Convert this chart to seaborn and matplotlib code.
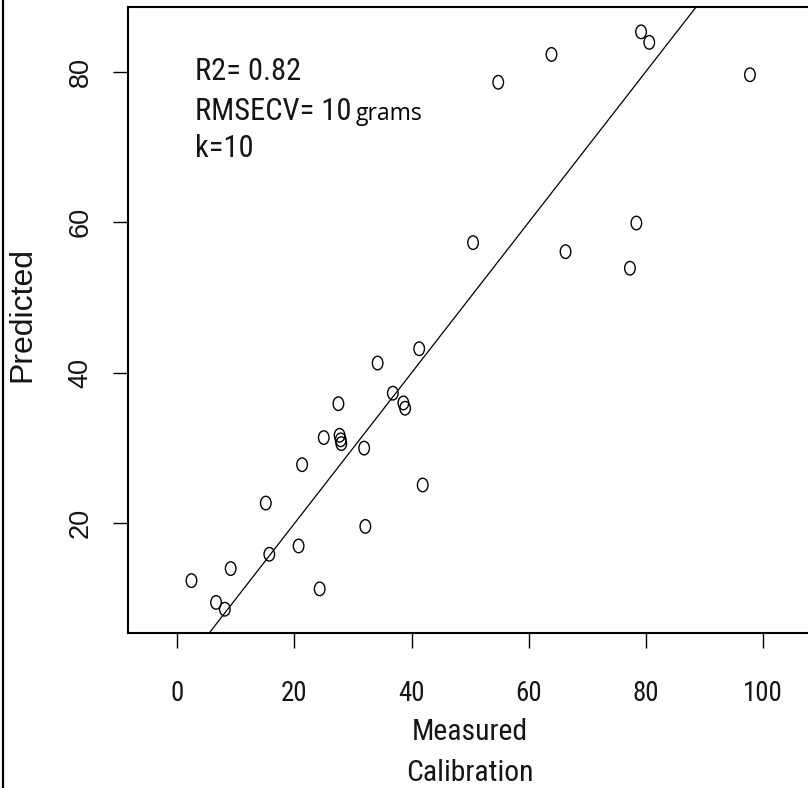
import matplotlib
matplotlib.use("Agg")
import matplotlib.pyplot as plt
from matplotlib import font_manager
from matplotlib.path import Path
from matplotlib.transforms import Affine2D
from matplotlib.lines import Line2D
import seaborn as sns
import pandas as pd

# ---- data ----
measured = [2.4, 6.6, 8.1, 9.1, 15.1, 15.7, 20.7, 21.3, 24.3, 25.0,
            27.5, 27.7, 27.9, 28.0, 31.9, 32.1, 34.2, 36.8, 38.6, 38.9,
            41.3, 41.9, 50.5, 54.8, 63.9, 66.3, 77.3, 78.4, 79.2, 80.6, 97.8]
predicted = [12.4, 9.5, 8.6, 14.0, 22.7, 15.9, 17.0, 27.8, 11.3, 31.4,
             35.9, 31.7, 31.1, 30.6, 30.0, 19.6, 41.3, 37.3, 36.0, 35.3,
             43.2, 25.1, 57.3, 78.6, 82.3, 56.1, 53.9, 59.9, 85.3, 83.9, 79.6]
x_ticks = [0, 20, 40, 60, 80, 100]
y_ticks = [20, 40, 60, 80]
stats_lines = ["R2= 0.82", "RMSECV= 10", "k=10"]
unit_text = "grams"

df = pd.DataFrame({"Measured": measured, "Predicted": predicted})

sns.set_theme(style="white")
plt.rcParams["font.family"] = ["Roboto", "DejaVu Sans"]
TXT = "#151515"


# pick a narrow sans face if one is installed (the reference uses a narrow Arial look)
def narrow_font():
    fl = font_manager.fontManager.ttflist
    names = {f.name for f in fl}
    if "Liberation Sans Narrow" in names:
        return {"family": "Liberation Sans Narrow"}
    if "Roboto Condensed" in names:
        return {"family": "Roboto Condensed"}
    for fam in ["Noto Sans", "Open Sans", "Roboto"]:
        for f in fl:
            st = f.stretch
            if f.name == fam and st in ("condensed", "semi-condensed") and \
                    f.weight in (400, "normal", "regular") and f.style == "normal":
                return {"family": fam, "stretch": st}
    return {"family": "Roboto"}


NF = narrow_font()

W, H = 808, 788
fig = plt.figure(figsize=(W / 100, H / 100), dpi=100)
ax = fig.add_axes([128 / W, 1 - 633.3 / H, (812 - 128) / W, (633.3 - 7.3) / H])
renderer = fig.canvas.get_renderer()


def fit_size(text, width_px, base=20.0):
    t = fig.text(0, 0, text, fontsize=base, **NF)
    w = t.get_window_extent(renderer).width
    t.remove()
    return base * width_px / w


ann_size = min(fit_size("RMSECV= 10", 158), 22)
tick_size = min(fit_size("100", 40), 21)
lab_size = min(fit_size("Measured", 116), 22)

# slightly squeezed open circle, as in the reference
ell = Path.unit_circle().transformed(Affine2D().scale(0.78, 1.0))

sns.scatterplot(data=df, x="Measured", y="Predicted", ax=ax, marker=ell,
                s=95, facecolor="none", edgecolor="black", linewidth=1.0,
                legend=False)
ax.axline((0, 0), slope=1, color="black", lw=0.9)

ax.set_xlim(-8.44, 108.4)
ax.set_ylim(5.4, 88.56)
ax.set_xticks(x_ticks)
ax.set_yticks(y_ticks)
ax.set_xticklabels([str(v) for v in x_ticks], fontsize=tick_size, **NF)
ax.set_yticklabels([str(v) for v in y_ticks], rotation=90, va="center",
                   fontsize=19.5, family="Liberation Sans")
ax.tick_params(axis="both", direction="out", length=10.8, width=1.0,
               color="black", labelcolor=TXT)
ax.tick_params(axis="x", pad=23)
ax.tick_params(axis="y", pad=14)
ax.tick_params(bottom=True, left=True)

for side in ["left", "bottom", "top"]:
    ax.spines[side].set_visible(True)
    ax.spines[side].set_color("black")
    ax.spines[side].set_linewidth(1.5)
ax.spines["right"].set_visible(False)

ax.set_xlabel("Measured\nCalibration", fontsize=lab_size, va="top",
              linespacing=1.6, color=TXT, **NF)
ax.xaxis.set_label_coords(0.5, -(718 - 633.3) / (633.3 - 7.3))
ax.set_ylabel("Predicted", fontsize=23, family="Liberation Sans",
              va="center", color=TXT)
ax.yaxis.set_label_coords((22 - 128) / (812 - 128), 0.51)

# annotation block
ys = [78.9, 73.58, 68.67]
texts = []
for t, yv in zip(stats_lines, ys):
    texts.append(ax.text(2.96, yv, t, va="baseline", ha="left", color=TXT,
                         fontsize=ann_size, **NF))
ax.annotate(unit_text, xy=(1, 0), xycoords=texts[1], xytext=(3.5, 0),
            textcoords="offset points", va="bottom", ha="left",
            color="black", family="Open Sans", fontsize=16.5)

# outer frame line at the left edge of the image
fig.add_artist(Line2D([3.3 / W, 3.3 / W], [0, 1], transform=fig.transFigure,
                      color="black", lw=1.6))

fig.savefig("out.png", dpi=100)
